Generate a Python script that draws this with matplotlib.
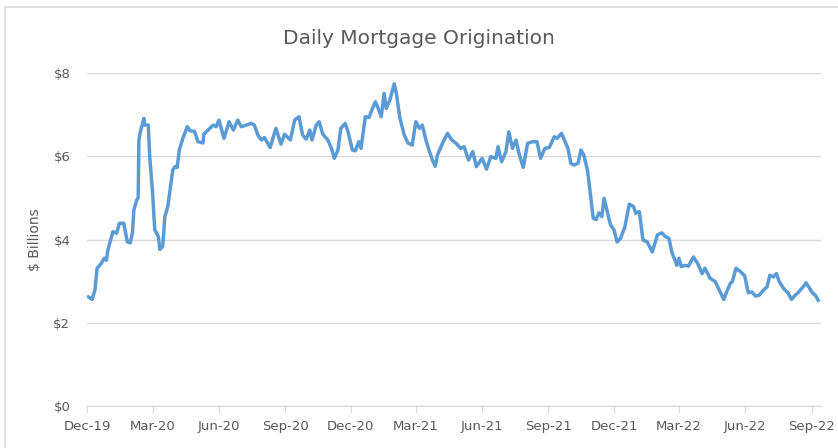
import matplotlib.pyplot as plt
import matplotlib.dates as mdates
from matplotlib.patches import Rectangle
import pandas as pd

# days since 2019-12-01 and daily origination ($ billions)
day_offsets = [2, 7, 11, 14, 20, 24, 27, 29, 36, 41, 45, 51, 56, 60, 63, 65, 69, 71, 72, 74,
               79, 80, 85, 87, 91, 94, 99, 101, 105, 108, 112, 119, 122, 125, 128, 133, 139, 143, 149, 154,
               161, 162, 168, 175, 179, 183, 190, 197, 203, 209, 214, 221, 228, 232, 237, 242, 246, 254, 262, 269,
               274, 282, 288, 294, 299, 304, 309, 312, 318, 322, 327, 334, 339, 343, 348, 352, 358, 362, 368, 372,
               377, 380, 386, 391, 395, 400, 403, 408, 412, 415, 420, 426, 429, 434, 440, 445, 451, 456, 461, 465,
               470, 475, 479, 483, 486, 493, 500, 506, 512, 518, 523, 529, 535, 540, 548, 554, 560, 567, 570, 575,
               581, 585, 590, 595, 599, 605, 611, 618, 624, 629, 635, 641, 648, 652, 658, 663, 667, 671, 675, 681,
               685, 689, 694, 698, 702, 706, 710, 714, 717, 721, 726, 731, 735, 740, 746, 752, 758, 761, 766, 771,
               777, 784, 791, 797, 802, 807, 811, 818, 821, 824, 830, 834, 841, 847, 853, 857, 864, 871, 877, 883,
               887, 892, 895, 900, 906, 912, 917, 922, 927, 932, 938, 943, 947, 952, 956, 960, 966, 972, 977, 982,
               986, 990, 993, 997, 1001, 1006, 1010, 1014]
volume = [2.62, 2.56, 2.78, 3.31, 3.43, 3.55, 3.50, 3.75, 4.19, 4.15, 4.39, 4.39, 3.94, 3.92, 4.15, 4.71, 4.95, 5.00, 6.39, 6.59,
          6.91, 6.75, 6.75, 5.99, 5.11, 4.23, 4.07, 3.76, 3.83, 4.55, 4.79, 5.67, 5.75, 5.73, 6.15, 6.43, 6.71, 6.61, 6.60, 6.35,
          6.32, 6.53, 6.63, 6.75, 6.71, 6.87, 6.43, 6.83, 6.63, 6.87, 6.71, 6.75, 6.79, 6.75, 6.51, 6.39, 6.45, 6.21, 6.67, 6.29,
          6.53, 6.39, 6.87, 6.95, 6.51, 6.41, 6.63, 6.39, 6.75, 6.83, 6.53, 6.39, 6.19, 5.95, 6.15, 6.67, 6.79, 6.59, 6.15, 6.13,
          6.35, 6.19, 6.95, 6.93, 7.11, 7.31, 7.19, 6.95, 7.51, 7.15, 7.35, 7.74, 7.51, 6.91, 6.51, 6.32, 6.27, 6.83, 6.67, 6.75,
          6.39, 6.11, 5.91, 5.76, 6.03, 6.31, 6.55, 6.39, 6.31, 6.19, 6.23, 5.91, 6.11, 5.75, 5.95, 5.69, 5.99, 5.95, 6.23, 5.87,
          6.11, 6.59, 6.19, 6.39, 6.07, 5.73, 6.31, 6.35, 6.35, 5.95, 6.19, 6.21, 6.47, 6.43, 6.55, 6.35, 6.19, 5.83, 5.79, 5.83,
          6.15, 6.03, 5.67, 5.11, 4.51, 4.48, 4.64, 4.55, 4.99, 4.71, 4.35, 4.23, 3.94, 4.03, 4.31, 4.85, 4.79, 4.63, 4.67, 3.99,
          3.94, 3.70, 4.11, 4.16, 4.07, 4.03, 3.70, 3.38, 3.55, 3.35, 3.38, 3.36, 3.58, 3.42, 3.18, 3.31, 3.07, 2.99, 2.78, 2.56,
          2.74, 2.94, 2.99, 3.31, 3.23, 3.13, 2.72, 2.74, 2.64, 2.66, 2.78, 2.86, 3.14, 3.10, 3.18, 2.99, 2.82, 2.72, 2.56, 2.66,
          2.72, 2.80, 2.86, 2.96, 2.86, 2.72, 2.66, 2.54]
y_ticks = [0, 2, 4, 6, 8]
start = pd.Timestamp('2019-12-01')
dates = start + pd.to_timedelta(day_offsets, unit='D')
x_ticks = pd.date_range('2019-12-01', '2022-09-01', freq='3MS')

txt = '#595959'
fig = plt.figure(figsize=(8.38, 4.48), dpi=100)
# chart frame, cut off on the right and bottom like the screenshot
fig.patches.append(Rectangle((5 / 838, -0.1), 1.2, 1.1 - 7 / 448, transform=fig.transFigure,
                             fill=False, edgecolor='#D9D9D9', lw=1.2))
ax = fig.add_axes([0.1038, 0.0938, 0.876, 0.7432])

ax.plot(dates, volume, color='#5B9BD5', lw=2.5, solid_joinstyle='round')

ax.set_ylim(0, 8)
ax.set_xlim(start, pd.Timestamp('2022-09-14'))
ax.set_yticks(y_ticks)
ax.set_yticklabels(['$%d' % v for v in y_ticks])
ax.set_xticks(x_ticks)
ax.xaxis.set_major_formatter(mdates.DateFormatter('%b-%y'))
ax.grid(axis='y', color='#D9D9D9', lw=1)
ax.set_axisbelow(True)
for s in ['top', 'right', 'left']:
    ax.spines[s].set_visible(False)
ax.spines['bottom'].set_color('#D9D9D9')
ax.tick_params(axis='y', length=0, pad=12, labelsize=9.5, labelcolor=txt)
ax.tick_params(axis='x', length=5, color='#D9D9D9', pad=5, labelsize=9.5, labelcolor=txt)
ax.set_ylabel('$ Billions', fontsize=10, color=txt, labelpad=8)
fig.text(0.5, 0.915, 'Daily Mortgage Origination', ha='center', va='center', fontsize=14.5, color=txt)

fig.savefig('out.png', dpi=100)
